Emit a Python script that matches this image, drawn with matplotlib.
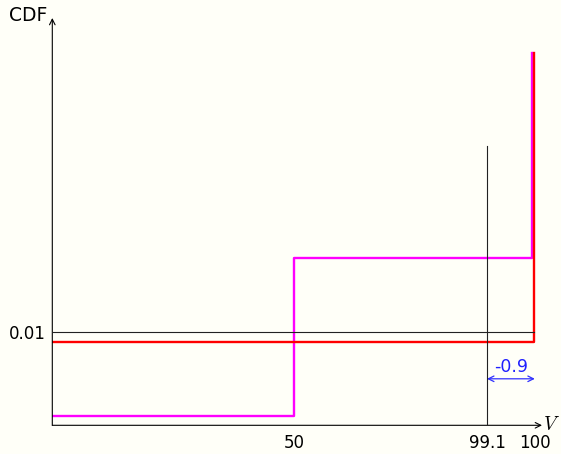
import matplotlib
matplotlib.use("Agg")
from matplotlib import pyplot as plt

plt.rcParams['mathtext.fontset'] = 'cm'

# schematic x positions (not to scale) and the labels printed under them
tick_pos = [50, 90, 100]
tick_labels = ['50', '99.1', '100']
ytick_pos = [0.01]
ytick_labels = ['0.01']

# step CDFs
red_x = [0, 99.8, 99.8]
red_y = [0.009, 0.009, 0.040]
mag_x = [0, 50, 50, 99.4, 99.4]
mag_y = [0.001, 0.001, 0.018, 0.018, 0.040]

# reference lines
level_y = 0.01
level_end = 99.8
quant_x = 90
quant_top = 0.030

# gap annotation
gap_from, gap_to = 90, 99.9
gap_y = 0.005
gap_label = '-0.9'

bg = '#fffff8'
fig = plt.figure(figsize=(5.61, 4.54), dpi=100, facecolor=bg)
# axes box: origin at (52,425) px, up to the arrow tips at (542,18) px
ax = fig.add_axes([52.3/561, (454-425.3)/454, (542-52.3)/561, (425.3-18)/454])
ax.set_facecolor(bg)
ax.set_xlim(0, (542-52.3)/4.83)
ax.set_ylim(0, (425.3-18)/9300)
for s in ax.spines.values():
    s.set_visible(False)

ax.plot(mag_x, mag_y, color='#ff00ff', lw=1.7, zorder=2)
ax.plot(red_x, red_y, color='#ff0000', lw=1.7, zorder=3)
ax.plot([0, level_end], [level_y, level_y], color='#222222', lw=0.8, zorder=4)
ax.plot([quant_x, quant_x], [0, quant_top], color='#222222', lw=0.8, zorder=4)

# axes with arrow tips
ax.annotate('', xy=(1, 0), xytext=(0, 0), xycoords='axes fraction',
            arrowprops=dict(arrowstyle='->', color='black', lw=0.8, shrinkA=0, shrinkB=0))
ax.annotate('', xy=(0, 1), xytext=(0, 0), xycoords='axes fraction',
            arrowprops=dict(arrowstyle='->', color='black', lw=0.8, shrinkA=0, shrinkB=0))
ax.text(-4.5/490, 1 + 2.5/407, 'CDF', transform=ax.transAxes, ha='right', va='center', fontsize=13.5)
ax.text(1 + 1/490, 0.002, '$V$', transform=ax.transAxes, ha='left', va='center', fontsize=14)

ax.set_xticks(tick_pos, tick_labels, fontsize=12)
ax.set_yticks(ytick_pos, ytick_labels, fontsize=12)
ax.tick_params(axis='x', length=0, pad=6)
ax.tick_params(axis='y', length=0, pad=5)

ax.annotate('', xy=(gap_to, gap_y), xytext=(gap_from, gap_y),
            arrowprops=dict(arrowstyle='<->', color='#3030ff', lw=0.9, shrinkA=0, shrinkB=0))
ax.text((gap_from + gap_to) / 2, gap_y + 0.0003, gap_label, color='#2020ff',
        ha='center', va='bottom', fontsize=12.5)

fig.savefig('out.png', dpi=100, facecolor=bg)
